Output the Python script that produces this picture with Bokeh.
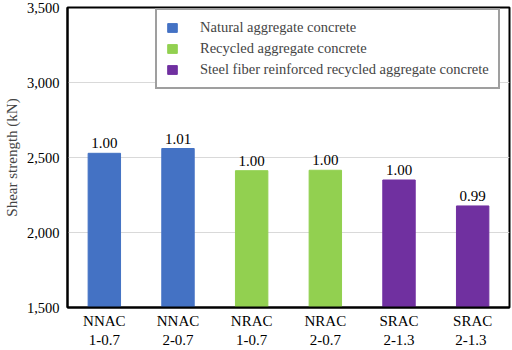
from bokeh.plotting import figure
from bokeh.models import ColumnDataSource, FactorRange, Legend, LegendItem, NumeralTickFormatter, FixedTicker
from bokeh.core.properties import value
from bokeh.embed import file_html
from bokeh.resources import INLINE

categories = ["NNAC\n1-0.7", "NNAC\n2-0.7", "NRAC\n1-0.7", "NRAC\n2-0.7", "SRAC\n2-1.3", "SRAC\n2-1.3 "]
strength = [2528, 2560, 2412, 2415, 2350, 2177]
ratios = ["1.00", "1.01", "1.00", "1.00", "1.00", "0.99"]
groups = ["Natural aggregate concrete", "Natural aggregate concrete",
          "Recycled aggregate concrete", "Recycled aggregate concrete",
          "Steel fiber reinforced recycled aggregate concrete",
          "Steel fiber reinforced recycled aggregate concrete"]
group_names = ["Natural aggregate concrete", "Recycled aggregate concrete",
               "Steel fiber reinforced recycled aggregate concrete"]
group_colors = ["#4472C4", "#92D050", "#7030A0"]
y_ticks = [1500, 2000, 2500, 3000, 3500]

FONT = "Liberation Serif"

colors = [group_colors[group_names.index(g)] for g in groups]
src = ColumnDataSource(dict(x=categories, top=strength, label=ratios, color=colors, group=groups))

p = figure(width=512, height=350, x_range=FactorRange(*categories), y_range=(1500, 3500),
           output_backend="svg", toolbar_location=None,
           min_border_left=60, min_border_right=3, min_border_top=7, min_border_bottom=30)

renderers = []
for g, c in zip(group_names, group_colors):
    idx = [i for i, gg in enumerate(groups) if gg == g]
    s = ColumnDataSource(dict(x=[categories[i] for i in idx], top=[strength[i] for i in idx]))
    r = p.vbar(x="x", top="top", bottom=1500, width=0.44, color=c, source=s)
    renderers.append(r)

p.text(x="x", y="top", text="label", source=src, text_align="center", text_baseline="bottom",
       y_offset=-5, text_font=value(FONT), text_font_size="15px", text_color="#000000")

p.outline_line_color = "black"
p.outline_line_width = 2
p.background_fill_color = "white"
p.border_fill_color = "white"

p.xgrid.grid_line_color = None
p.ygrid.grid_line_color = "#d9d9d9"
p.ygrid.ticker = FixedTicker(ticks=y_ticks)

p.yaxis.ticker = FixedTicker(ticks=y_ticks)
p.yaxis.formatter = NumeralTickFormatter(format="0,0")
for ax in (p.xaxis[0], p.yaxis[0]):
    ax.major_tick_line_color = None
    ax.minor_tick_line_color = None
    ax.major_tick_in = 0
    ax.major_tick_out = 0
    ax.minor_tick_in = 0
    ax.minor_tick_out = 0
    ax.major_label_text_font = FONT
    ax.major_label_text_color = "#000000"
    ax.axis_line_color = "black"
    ax.axis_line_width = 2
p.xaxis.major_label_text_font_size = "15px"
p.yaxis.major_label_text_font_size = "14.5px"
p.yaxis.major_label_standoff = 8
p.xaxis.major_label_standoff = 5
p.yaxis.axis_label = "Shear strength (kN)"
p.yaxis.axis_label_text_font = FONT
p.yaxis.axis_label_text_font_size = "15px"
p.yaxis.axis_label_text_font_style = "normal"
p.yaxis.axis_label_standoff = 4

legend = Legend(items=[LegendItem(label=g, renderers=[r]) for g, r in zip(group_names, renderers)],
                location=(88, 218))
legend.label_text_font = FONT
legend.label_text_font_size = "14.5px"
legend.glyph_width = 12
legend.glyph_height = 11
legend.label_standoff = 22
legend.spacing = 4
legend.padding = 9
legend.margin = 0
legend.border_line_color = "#404040"
legend.border_line_width = 2
legend.background_fill_alpha = 1
p.add_layout(legend)

open("out.html", "w").write(file_html(p, INLINE))
